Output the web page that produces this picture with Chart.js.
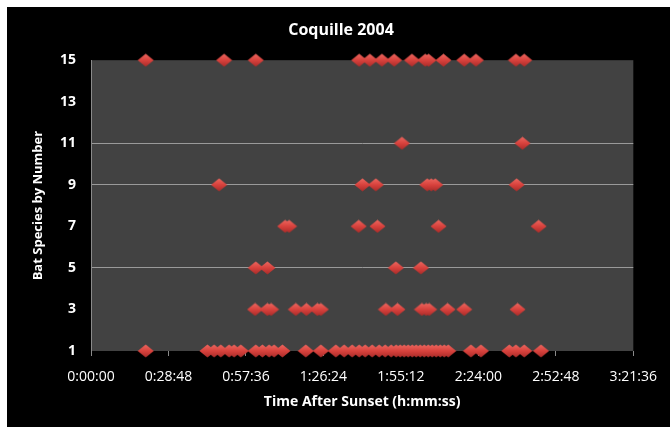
<!DOCTYPE html>
<html>
<head>
<meta charset="utf-8">
<script src="https://cdn.jsdelivr.net/npm/chart.js@4/dist/chart.umd.min.js"></script>
<style>
  html, body { margin: 0; padding: 0; background: #fff; }
  #wrap { width: 670px; height: 427px; }
</style>
</head>
<body>
<div id="wrap"><canvas id="ScatterChart" width="670" height="427"></canvas></div>
<script>
// detection times after sunset (h:mm:ss) for each species number
var species15 = ["0:20:21","0:49:28","1:01:16","1:39:41","1:43:40","1:48:08","1:52:42","1:59:17","2:04:14","2:05:30","2:11:02","2:18:44","2:23:05","2:37:58","2:41:03"];
var species11 = ["1:55:34","2:40:25"];
var species9 = ["0:47:37","1:40:55","1:45:53","2:04:59","2:06:28","2:07:57","2:38:12"];
var species7 = ["1:12:10","1:13:39","1:39:30","1:46:29","2:09:11","2:46:23"];
var species5 = ["1:01:16","1:05:35","1:53:20","2:02:38"];
var species3 = ["1:01:00","1:05:35","1:06:57","1:16:08","1:20:05","1:24:10","1:25:26","1:49:37","1:53:56","2:03:01","2:04:36","2:05:43","2:12:32","2:18:44","2:38:34"];
var species1 = ["0:20:21","0:43:16","0:45:45","0:48:15","0:51:20","0:53:11","0:55:41","1:01:16","1:03:43","1:06:13","1:08:04","1:11:09","1:19:51","1:25:26","1:31:01","1:34:06","1:37:05","1:39:41","1:41:55","1:44:31","1:47:07","1:49:21","1:51:35","1:53:27","1:54:56","1:56:25","1:57:54","1:59:24","2:00:53","2:02:22","2:03:52","2:05:21","2:06:50","2:08:19","2:09:49","2:11:18","2:12:47","2:21:14","2:24:57","2:35:29","2:37:58","2:41:03","2:47:16"];

var yTicks = [1, 3, 5, 7, 9, 11, 13, 15];
var xTickStep = "0:28:48";
var xMax = "3:21:36";

function toSec(s) {
  var p = s.split(":");
  return (+p[0]) * 3600 + (+p[1]) * 60 + (+p[2]);
}
function toHms(v) {
  var h = Math.floor(v / 3600), m = Math.floor((v % 3600) / 60), s = Math.round(v % 60);
  return h + ":" + (m < 10 ? "0" : "") + m + ":" + (s < 10 ? "0" : "") + s;
}

var points = [];
[[15, species15], [11, species11], [9, species9], [7, species7], [5, species5], [3, species3], [1, species1]].forEach(function (row) {
  row[1].forEach(function (t) { points.push({x: toSec(t), y: row[0]}); });
});

// shaded diamond marker
var diamond = document.createElement("canvas");
diamond.width = 17; diamond.height = 14;
var dc = diamond.getContext("2d");
var g = dc.createLinearGradient(0, 0, 0, 14);
g.addColorStop(0, "#ee6a62");
g.addColorStop(0.5, "#d8423d");
g.addColorStop(1, "#a52a28");
dc.fillStyle = g;
dc.beginPath();
dc.moveTo(8.5, 0.5); dc.lineTo(16.5, 7); dc.lineTo(8.5, 13.5); dc.lineTo(0.5, 7);
dc.closePath();
dc.fill();

var plotBg = {
  id: "plotBg",
  beforeDraw: function (chart) {
    var a = chart.chartArea, c = chart.ctx;
    c.save();
    c.fillStyle = "#fff";
    c.fillRect(0, 0, chart.width, chart.height);
    c.fillStyle = "#000";
    c.fillRect(7, 7, chart.width - 7, chart.height - 7);
    c.fillStyle = "#424242";
    c.fillRect(a.left, a.top, a.right - a.left, a.bottom - a.top);
    c.restore();
  }
};

var font = "'Open Sans'";

new Chart("ScatterChart", {
  type: "scatter",
  data: {
    datasets: [{
      data: points,
      pointStyle: diamond,
      pointRadius: 8,
      pointHoverRadius: 8,
      clip: false
    }]
  },
  plugins: [plotBg],
  options: {
    responsive: false,
    animation: false,
    layout: {padding: {left: 12, right: 0, top: 0, bottom: 0}},
    plugins: {
      legend: {display: false},
      tooltip: {enabled: false},
      title: {
        display: true,
        text: "Coquille 2004",
        color: "#fff",
        font: {family: font, size: 16, weight: "bold"},
        padding: {top: 21, bottom: 20}
      }
    },
    scales: {
      x: {
        type: "linear",
        min: 0,
        max: toSec(xMax),
        afterFit: function (s) { s.height = 76; },
        ticks: {
          stepSize: toSec(xTickStep),
          color: "#fff",
          font: {family: font, size: 14},
          padding: 13,
          maxRotation: 0,
          callback: function (v) { return toHms(v); }
        },
        grid: {display: true, drawOnChartArea: false, drawTicks: true, tickLength: 5, color: "#8a8a8a"},
        border: {display: false},
        title: {
          display: true,
          text: "Time After Sunset (h:mm:ss)",
          color: "#fff",
          font: {family: font, size: 14, weight: "bold"},
          padding: {top: 0, bottom: 17}
        }
      },
      y: {
        min: 1,
        max: 15,
        afterFit: function (s) { s.width = 79; },
        afterBuildTicks: function (s) { s.ticks = yTicks.map(function (v) { return {value: v}; }); },
        ticks: {
          color: "#fff",
          font: {family: font, size: 14, weight: "bold"},
          padding: 15
        },
        grid: {
          drawTicks: false,
          color: function (ctx) {
            var v = ctx.tick && ctx.tick.value;
            return (v === 5 || v === 9 || v === 11) ? "#9a9a9a" : "rgba(0,0,0,0)";
          },
          lineWidth: 1
        },
        border: {display: true, color: "#8a8a8a"},
        title: {
          display: true,
          text: "Bat Species by Number",
          color: "#fff",
          font: {family: font, size: 13, weight: "bold"},
          padding: {top: 18, bottom: 0}
        }
      },
      // empty right-hand space, keeps the plot edge where the reference has it
      yRight: {
        position: "right",
        display: true,
        afterFit: function (s) { s.width = 36; },
        ticks: {display: false},
        grid: {display: false},
        border: {display: false}
      }
    }
  }
});
</script>
</body>
</html>
